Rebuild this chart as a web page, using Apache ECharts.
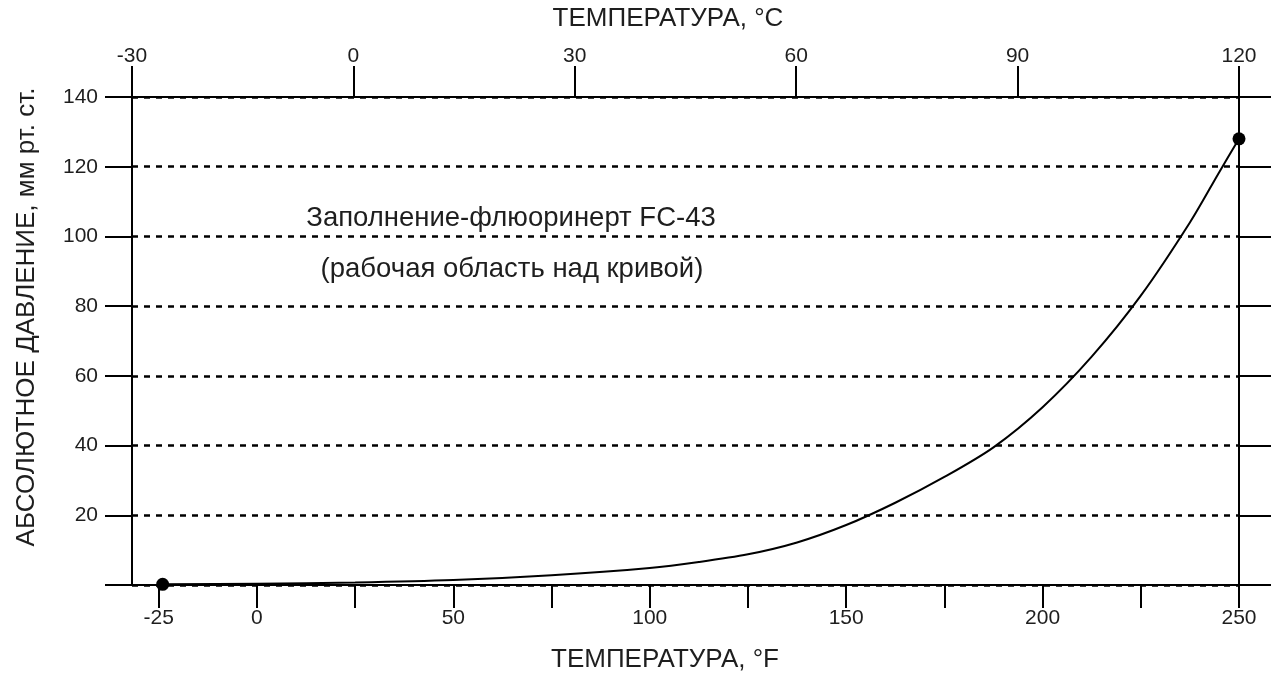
<!DOCTYPE html>
<html>
<head>
<meta charset="utf-8">
<script src="https://cdn.jsdelivr.net/npm/echarts@6/dist/echarts.min.js"></script>
<style>
html,body{margin:0;padding:0;background:#fff;}
#chart{width:1271px;height:675px;}
</style>
</head>
<body>
<div id="chart"></div>
<script>
// Data
var tempF = [-24, 0, 25, 50, 75, 100, 112.5, 125, 137.5, 150, 162.5, 175, 187.5, 200, 212.5, 225, 237.5, 245, 250];
var pressure = [0.2, 0.35, 0.7, 1.4, 2.8, 4.9, 6.6, 8.8, 12.2, 17.2, 23.6, 31.0, 39.5, 51, 65.5, 83, 104, 118.5, 128];
var fTicks = [-25, 0, 25, 50, 75, 100, 125, 150, 175, 200, 225, 250];
var fLabels = [-25, 0, 50, 100, 150, 200, 250];
var cTicks = [-30, 0, 30, 60, 90, 120];
var pTicks = [0, 20, 40, 60, 80, 100, 120, 140];
var endIdx = [0, tempF.length - 1];

var titleF = 'ТЕМПЕРАТУРА, °F';
var titleC = 'ТЕМПЕРАТУРА, °C';
var titleP = 'АБСОЛЮТНОЕ ДАВЛЕНИЕ, мм рт. ст.';
var note1 = 'Заполнение-флюоринерт FC-43';
var note2 = '(рабочая область над кривой)';

var FONT = '"Liberation Sans", Arial, sans-serif';
var TXT = '#1e1e1e';

var curve = tempF.map(function (t, i) { return [t, pressure[i]]; });
var ends = endIdx.map(function (i) { return [tempF[i], pressure[i]]; });

var chart = echarts.init(document.getElementById('chart'), null, {renderer: 'canvas'});
var axisLine = {show: true, onZero: false, lineStyle: {color: '#000', width: 2}};
var tickStyle = {color: '#000', width: 2};
chart.setOption({
  backgroundColor: '#fff',
  animation: false,
  grid: {left: 132, right: 32, top: 97, bottom: 90, containLabel: false},
  xAxis: [
    {
      type: 'value', position: 'bottom',
      min: -31.8, max: 250,
      axisLine: axisLine,
      axisTick: {show: true, inside: false, length: 23, lineStyle: tickStyle, customValues: fTicks},
      axisLabel: {show: true, margin: 23, fontSize: 21, fontFamily: FONT, color: TXT, customValues: fLabels},
      splitLine: {show: false}
    },
    {
      type: 'value', position: 'top',
      min: cTicks[0], max: cTicks[cTicks.length - 1], interval: 30,
      axisLine: axisLine,
      axisTick: {show: true, inside: false, length: 31, lineStyle: tickStyle},
      axisLabel: {show: true, margin: 30, fontSize: 21, fontFamily: FONT, color: TXT},
      splitLine: {show: false}
    }
  ],
  yAxis: [
    {
      type: 'value', position: 'left',
      min: pTicks[0], max: pTicks[pTicks.length - 1], interval: 20,
      axisLine: axisLine,
      axisTick: {show: true, inside: false, length: 27, lineStyle: tickStyle},
      axisLabel: {show: true, margin: 34, fontSize: 21, fontFamily: FONT, color: TXT,
        formatter: function (v) { return v === 0 ? '' : String(v); }},
      splitLine: {show: true, lineStyle: {color: '#000', width: 2.5, type: [6, 6]}}
    },
    {
      type: 'value', position: 'right',
      min: pTicks[0], max: pTicks[pTicks.length - 1], interval: 20,
      axisLine: axisLine,
      axisTick: {show: true, inside: false, length: 32, lineStyle: tickStyle},
      axisLabel: {show: false},
      splitLine: {show: false}
    }
  ],
  series: [
    {
      type: 'line', xAxisIndex: 0, yAxisIndex: 0,
      data: curve, smooth: 0.3,
      showSymbol: false, clip: false,
      lineStyle: {color: '#000', width: 2}, z: 5
    },
    {
      type: 'scatter', xAxisIndex: 0, yAxisIndex: 0,
      data: ends, symbol: 'circle', symbolSize: 13, clip: false,
      itemStyle: {color: '#000', opacity: 1}, z: 6
    }
  ],
  graphic: [
    {type: 'text', x: 668, y: 19, style: {text: titleC, font: '26px ' + FONT, fill: TXT, textAlign: 'center', textVerticalAlign: 'middle'}},
    {type: 'text', x: 665, y: 660, style: {text: titleF, font: '26px ' + FONT, fill: TXT, textAlign: 'center', textVerticalAlign: 'middle'}},
    {type: 'text', x: 27, y: 317, rotation: Math.PI / 2, style: {text: titleP, font: '26px ' + FONT, fill: TXT, textAlign: 'center', textVerticalAlign: 'middle'}},
    {type: 'text', x: 511, y: 218, style: {text: note1, font: '27.5px ' + FONT, fill: TXT, textAlign: 'center', textVerticalAlign: 'middle'}},
    {type: 'text', x: 512, y: 269, style: {text: note2, font: '27.5px ' + FONT, fill: TXT, textAlign: 'center', textVerticalAlign: 'middle'}}
  ]
});
</script>
</body>
</html>
